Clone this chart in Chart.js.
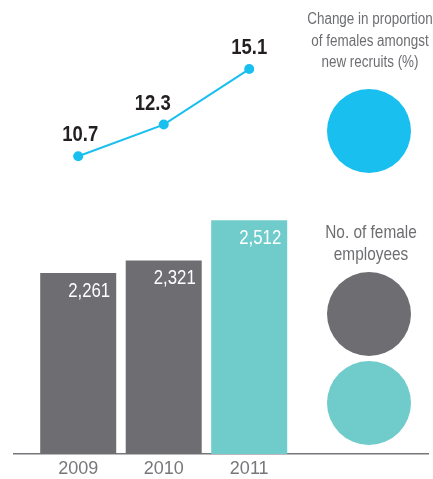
<!DOCTYPE html>
<html>
<head>
<meta charset="utf-8">
<script src="https://cdn.jsdelivr.net/npm/chart.js@4.4.1/dist/chart.umd.min.js"></script>
<style>
  html, body { margin: 0; padding: 0; background: #fff; }
  #wrap { position: relative; width: 433px; height: 479px; overflow: hidden; }
  #wrap canvas { position: absolute; left: 0; top: 0; }
  .key-title {
    position: absolute; text-align: center; color: #6d6e71; white-space: nowrap;
    font-family: "Liberation Sans", Arial, sans-serif;
    transform-origin: 50% 0;
  }
  .key-dot { position: absolute; width: 84px; height: 84px; border-radius: 50%; }
</style>
</head>
<body>
<div id="wrap">
  <canvas id="chart" width="433" height="479"></canvas>
  <div class="key-title" style="left:290px; top:8px; width:160px; font-size:16px; line-height:21.5px; transform:scaleX(0.84);">Change in proportion<br>of females amongst<br>new recruits (%)</div>
  <div class="key-dot" id="shareDot" style="left:327px; top:89px;"></div>
  <div class="key-title" style="left:296px; top:221px; width:150px; font-size:19px; line-height:22px; transform:scaleX(0.81);">No. of female<br>employees</div>
  <div class="key-dot" id="countDotPrev" style="left:327px; top:272px;"></div>
  <div class="key-dot" id="countDotLatest" style="left:327px; top:361px;"></div>
</div>
<script>
// Years shown on the axis
const years = ['2009', '2010', '2011'];
// Number of female employees per year
const femaleEmployees = [2261, 2321, 2512];
// Share of females among new recruits, per year (%)
const recruitShare = [10.7, 12.3, 15.1];

const GREY = '#6e6d72';
const TEAL = '#70cbcb';
const BLUE = '#18bfef';
const FONT = '"Liberation Sans", Arial, sans-serif';

document.getElementById('shareDot').style.background = BLUE;
document.getElementById('countDotPrev').style.background = GREY;
document.getElementById('countDotLatest').style.background = TEAL;

const barColors = years.map((y, i) => (i === years.length - 1 ? TEAL : GREY));

// Horizontally condensed text, anchored at (x, y)
function narrowText(ctx, text, x, y, sx, align) {
  ctx.save();
  ctx.translate(x, y);
  ctx.scale(sx, 1);
  ctx.textAlign = align;
  ctx.fillText(text, 0, 0);
  ctx.restore();
}

// Value captions: above the line points and inside the bar tops
const valueLabels = {
  id: 'valueLabels',
  afterDatasetsDraw(chart, args, opts) {
    const ctx = chart.ctx;
    ctx.save();
    ctx.textBaseline = 'middle';
    const lineMeta = chart.getDatasetMeta(0);
    ctx.font = 'bold 22px ' + FONT;
    ctx.fillStyle = '#231f20';
    lineMeta.data.forEach((pt, i) => {
      const dx = (opts.shareShift && opts.shareShift[i]) || 0;
      narrowText(ctx, recruitShare[i].toFixed(1), pt.x + dx, pt.y - 21, 0.84, 'center');
    });
    const barMeta = chart.getDatasetMeta(1);
    ctx.font = '21px ' + FONT;
    ctx.fillStyle = '#ffffff';
    barMeta.data.forEach((bar, i) => {
      narrowText(ctx, femaleEmployees[i].toLocaleString('en-US'), bar.x + bar.width / 2 - 6, bar.y + 18, 0.8, 'right');
    });
    ctx.restore();
  }
};

new Chart(document.getElementById('chart'), {
  data: {
    datasets: [
      {
        type: 'line',
        label: 'Change in proportion of females amongst new recruits (%)',
        data: recruitShare.map((v, i) => ({ x: i, y: v })),
        yAxisID: 'yShare',
        borderColor: BLUE,
        borderWidth: 2,
        pointRadius: 5,
        pointBackgroundColor: BLUE,
        pointBorderWidth: 0,
        tension: 0,
        order: 0
      },
      {
        type: 'bar',
        label: 'No. of female employees',
        data: femaleEmployees.map((v, i) => ({ x: i, y: v })),
        yAxisID: 'yCount',
        backgroundColor: barColors,
        borderWidth: 0,
        barPercentage: 1,
        categoryPercentage: 0.889,
        order: 1
      }
    ]
  },
  options: {
    responsive: false,
    animation: false,
    events: [],
    layout: { padding: { left: 14, right: 5, top: 10, bottom: -4.5 } },
    plugins: {
      legend: { display: false },
      tooltip: { enabled: false },
      valueLabels: { shareShift: [2, -11, 0] }
    },
    scales: {
      x: {
        type: 'linear',
        offset: false,
        min: -0.751,
        max: 4.091,
        afterBuildTicks: scale => { scale.ticks = years.map((y, i) => ({ value: i })); },
        ticks: {
          autoSkip: false,
          maxRotation: 0,
          padding: 8.5,
          color: '#77777b',
          font: { family: FONT, size: 18, lineHeight: 0.69 },
          callback: v => years[v]
        },
        grid: { display: false, drawTicks: false },
        border: { display: true, color: '#77777b', width: 1.5 }
      },
      yCount: { display: false, min: 1401, max: 3511 },
      yShare: { display: false, min: -4.32, max: 18.08 }
    }
  },
  plugins: [valueLabels]
});
</script>
</body>
</html>
